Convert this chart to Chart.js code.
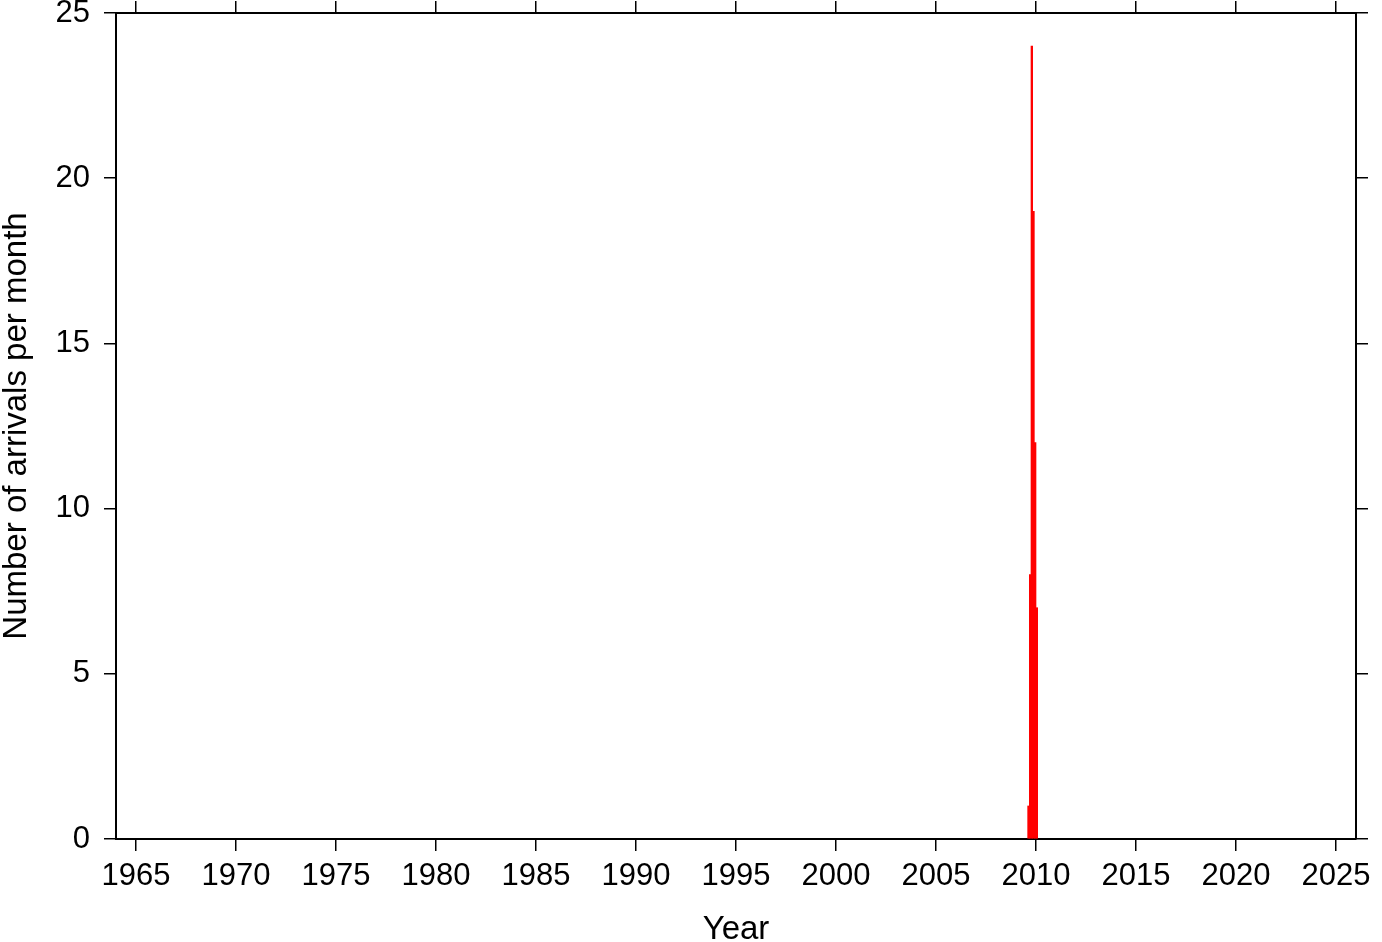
<!DOCTYPE html>
<html>
<head>
<meta charset="utf-8">
<script src="https://cdn.jsdelivr.net/npm/chart.js@4/dist/chart.umd.min.js"></script>
<style>
  body { margin: 0; background: #fff; }
  #wrap { width: 1382px; height: 942px; }
</style>
</head>
<body>
<div id="wrap"><canvas id="graph"></canvas></div>
<script>
// === DATA === //

const arrivalMonths = ["2009-08", "2009-09", "2009-10", "2009-11", "2009-12", "2010-01"]
const arrivalCounts = [1, 8, 24, 19, 12, 7]
const yearTicks = [1965, 1970, 1975, 1980, 1985, 1990, 1995, 2000, 2005, 2010, 2015, 2020, 2025]
const countTicks = [0, 5, 10, 15, 20, 25]

// month "YYYY-MM" -> decimal year at the middle of the month
function monthToYear(m) {
  const [y, mo] = m.split("-").map(Number)
  return y + (mo - 1) / 12 + 1 / 24
}

const points = arrivalMonths.map((m, i) => ({ x: monthToYear(m), y: arrivalCounts[i] }))

// === CHART === //

const family = "'Liberation Sans', Arial, sans-serif"
const tickFont = { family, size: 31 }
const xTitleFont = { family, size: 33, lineHeight: 0.75 }
const yTitleFont = { family, size: 33, lineHeight: 1.0 }
const black = "#000"

function fixSize(prop, val) {
  return scale => {
    scale[prop] = val
    scale.paddingLeft = 0
    scale.paddingRight = 0
    scale.paddingTop = 0
    scale.paddingBottom = 0
  }
}

function setTicks(list) {
  return scale => { scale.ticks = list.map(v => ({ value: v })) }
}

function axisGrid() {
  return { drawOnChartArea: false, drawTicks: true, tickLength: 12, color: black, lineWidth: 1.5, offset: false }
}

const config = {
  type: "bar",
  data: {
    datasets: [{
      label: "arrivals",
      data: points,
      backgroundColor: "#ff0000",
      borderWidth: 0,
      barPercentage: 1,
      categoryPercentage: 1,
    }]
  },
  options: {
    responsive: true,
    maintainAspectRatio: false,
    animation: false,
    devicePixelRatio: 1,
    layout: { padding: 0 },
    plugins: { legend: { display: false }, tooltip: { enabled: false } },
    scales: {
      x: {
        type: "linear",
        position: "bottom",
        offset: false,
        min: 1964,
        max: 2026,
        afterBuildTicks: setTicks(yearTicks),
        afterFit: fixSize("height", 103),
        grid: axisGrid(),
        border: { display: true, color: black, width: 2 },
        ticks: { color: black, font: tickFont, padding: 7, maxRotation: 0, autoSkip: false, callback: v => String(v) },
        title: { display: true, text: "Year", color: black, font: xTitleFont, padding: 0 },
      },
      xTop: {
        type: "linear",
        position: "top",
        offset: false,
        min: 1964,
        max: 2026,
        afterBuildTicks: setTicks(yearTicks),
        afterFit: fixSize("height", 13),
        grid: axisGrid(),
        border: { display: true, color: black, width: 2 },
        ticks: { display: false },
      },
      y: {
        type: "linear",
        position: "left",
        min: 0,
        max: 25,
        afterBuildTicks: setTicks(countTicks),
        afterFit: fixSize("width", 116),
        grid: axisGrid(),
        border: { display: true, color: black, width: 2 },
        ticks: { color: black, font: tickFont, padding: 14 },
        title: { display: true, text: "Number of arrivals per month", color: black, font: yTitleFont, padding: 0 },
      },
      yRight: {
        type: "linear",
        position: "right",
        min: 0,
        max: 25,
        afterBuildTicks: setTicks(countTicks),
        afterFit: fixSize("width", 26),
        grid: axisGrid(),
        border: { display: true, color: black, width: 2 },
        ticks: { display: false },
      },
    }
  }
}

const arrivalsChart = new Chart(document.getElementById("graph"), config)
</script>
</body>
</html>
